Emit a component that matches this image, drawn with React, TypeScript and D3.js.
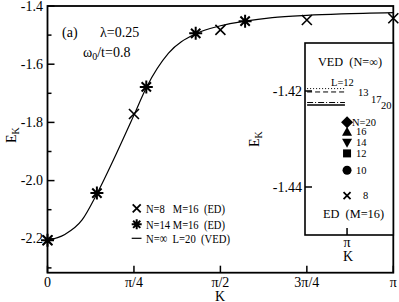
import { useMemo } from 'react';
import * as d3 from 'd3';

// K in units of pi
const vedK = [0, 0.05, 0.1, 0.143, 0.2, 0.25, 0.286, 0.35, 0.429, 0.5, 0.571, 0.65, 0.75, 0.85, 1.0];
const vedE = [-2.205, -2.185, -2.135, -2.045, -1.905, -1.775, -1.68, -1.562, -1.495, -1.468, -1.452, -1.44, -1.432, -1.427, -1.4227];

const ed8K = [0, 0.25, 0.5, 0.75, 1];
const ed8E = [-2.205, -1.771, -1.482, -1.448, -1.442];

const ed14K = [0, 1 / 7, 2 / 7, 3 / 7, 4 / 7];
const ed14E = [-2.205, -2.043, -1.678, -1.494, -1.452];

const kTicks = [0, 0.25, 0.5, 0.75, 1];
const kTickLabels = ['0', 'π/4', 'π/2', '3π/4', 'π'];
const eTicks = [-1.4, -1.6, -1.8, -2.0, -2.2];
const eTickLabels = ['-1.4', '-1.6', '-1.8', '-2.0', '-2.2'];
const eMinor = [-1.5, -1.7, -1.9, -2.1, -2.3];

const legendLabels = ['N=8   M=16  (ED)', 'N=14 M=16  (ED)', 'N=∞  L=20  (VED)'];

// inset
const insetL = ['L=12', '13', '17', '20'];
const insetLE = [-1.4195, -1.4202, -1.4224, -1.4229];
const insetN = ['N=20', '16', '14', '12', '10', '8'];
const insetNE = [-1.4265, -1.4285, -1.4308, -1.433, -1.4365, -1.4418];
const insetTicks = [-1.42, -1.44];

const W = 399, H = 302;
const FONT = '"Liberation Serif", "DejaVu Serif", serif';

function Cross({ x, y, s = 5, w = 1.6 }: any) {
  return (
    <path d={`M${x - s},${y - s}L${x + s},${y + s}M${x - s},${y + s}L${x + s},${y - s}`} stroke="#000" strokeWidth={w} />
  );
}

function Star({ x, y, s = 6 }: any) {
  const d = s * 0.72;
  return (
    <path
      d={`M${x - s},${y}L${x + s},${y}M${x},${y - s}L${x},${y + s}M${x - d},${y - d}L${x + d},${y + d}M${x - d},${y + d}L${x + d},${y - d}`}
      stroke="#000"
      strokeWidth={2}
    />
  );
}

function Sym({ i, x, y }: any) {
  const s = 5;
  if (i === 0) return <path d={`M${x},${y - s - 1}L${x + s + 1},${y}L${x},${y + s + 1}L${x - s - 1},${y}Z`} fill="#000" />;
  if (i === 1) return <path d={`M${x},${y - s}L${x + s},${y + s - 1}L${x - s},${y + s - 1}Z`} fill="#000" />;
  if (i === 2) return <path d={`M${x},${y + s}L${x + s},${y - s + 1}L${x - s},${y - s + 1}Z`} fill="#000" />;
  if (i === 3) return <rect x={x - 4} y={y - 4} width={8} height={8} fill="#000" />;
  if (i === 4) return <circle cx={x} cy={y} r={4.5} fill="#000" />;
  return <Cross x={x} y={y} s={3.5} w={1.8} />;
}

export default function App() {
  const x = d3.scaleLinear().domain([0, 1]).range([47.5, 393.3]);
  const y = d3.scaleLinear().domain([-2.3165, -1.4]).range([272.7, 6]);

  const ix = d3.scaleLinear().domain([0.9, 1.11]).range([305, 393.3]);
  const iy = d3.scaleLinear().domain([-1.45, -1.41]).range([235, 43]);

  const curve = useMemo(
    () =>
      d3
        .line<number>()
        .x((_, i) => x(vedK[i]))
        .y((d) => y(d))
        .curve(d3.curveMonotoneX)(vedE),
    []
  );

  const dashes = ['1,2', '5,3', '6,2,1,2', null];
  const lblPos = [
    [331, -1.4183],
    [358, -1.4203],
    [371, -1.4218],
    [381, -1.423],
  ];
  const legendY = [212.5, 228.5, 242.5];
  const legendW = [79, 79, 84];

  return (
    <div style={{ position: 'fixed', left: 0, top: 0 }}>
      <style>{`svg text { font-family: ${FONT}; }`}</style>
      <svg width={W} height={H} style={{ display: 'block', background: '#fff' }}>
        {/* curve */}
        <path d={curve || ''} fill="none" stroke="#000" strokeWidth={1.2} />

        {/* ED points */}
        {ed8K.map((k, i) => (
          <Cross key={'c' + i} x={x(k)} y={y(ed8E[i])} s={5} />
        ))}
        {ed14K.map((k, i) => (
          <Star key={'s' + i} x={x(k)} y={y(ed14E[i])} s={6.5} />
        ))}

        {/* frame */}
        <rect x={47.5} y={6} width={393.3 - 47.5} height={272.7 - 6} fill="none" stroke="#000" strokeWidth={1.8} />

        {/* y ticks */}
        {eTicks.map((t, i) => (
          <g key={'yt' + i}>
            <line x1={47.5} x2={54.5} y1={y(t)} y2={y(t)} stroke="#000" strokeWidth={1.5} />
            <text x={43} y={y(t) + 4.5} fontSize={14} textAnchor="end">
              {eTickLabels[i]}
            </text>
          </g>
        ))}
        {eMinor.map((t, i) => (
          <line key={'ym' + i} x1={47.5} x2={51.5} y1={y(t)} y2={y(t)} stroke="#000" strokeWidth={1.5} />
        ))}

        {/* x ticks */}
        {kTicks.map((t, i) => (
          <g key={'xt' + i}>
            <line x1={x(t)} x2={x(t)} y1={272.7} y2={265.7} stroke="#000" strokeWidth={1.5} />
            <text x={x(t)} y={287} fontSize={14} textAnchor="middle">
              {kTickLabels[i]}
            </text>
          </g>
        ))}

        {/* axis labels */}
        <text x={220} y={300.5} fontSize={14} textAnchor="middle">K</text>
        <text transform="translate(16,143) rotate(-90)" fontSize={14}>
          E<tspan dy={3} fontSize={10}>K</tspan>
        </text>

        {/* annotations */}
        <text x={62} y={37} fontSize={14}>(a)</text>
        <text x={100} y={37} fontSize={14}>λ=0.25</text>
        <text x={83} y={57} fontSize={14}>
          ω<tspan dy={3} fontSize={10}>0</tspan>
          <tspan dy={-3}>/t=0.8</tspan>
        </text>

        {/* legend */}
        <Cross x={136.7} y={208.3} s={4} w={1.8} />
        <Star x={136.7} y={224.3} s={5} />
        <line x1={131.7} x2={141.5} y1={238.3} y2={238.3} stroke="#000" strokeWidth={1.2} />
        {legendLabels.map((l, i) => (
          <text
            key={'lg' + i}
            x={146}
            y={legendY[i]}
            fontSize={13.5}
            textLength={legendW[i]}
            lengthAdjust="spacingAndGlyphs"
            style={{ whiteSpace: 'pre' }}
          >
            {l}
          </text>
        ))}

        {/* inset */}
        <rect x={305} y={43} width={393.3 - 305} height={235 - 43} fill="#fff" stroke="#000" strokeWidth={1.6} />
        {insetTicks.map((t, i) => (
          <g key={'it' + i}>
            <line x1={305} x2={312} y1={iy(t)} y2={iy(t)} stroke="#000" strokeWidth={1.5} />
            <text x={302} y={iy(t) + 4.5} fontSize={14} textAnchor="end">
              {t.toFixed(2)}
            </text>
          </g>
        ))}
        <line x1={ix(1)} x2={ix(1)} y1={235} y2={228} stroke="#000" strokeWidth={1.5} />
        <text x={ix(1)} y={247} fontSize={14} textAnchor="middle">π</text>
        <text x={ix(1) + 1} y={261} fontSize={14} textAnchor="middle">K</text>
        <text transform="translate(259,147) rotate(-90)" fontSize={14}>
          E<tspan dy={3} fontSize={10}>K</tspan>
        </text>

        <text x={318} y={66} fontSize={12} textLength={64} lengthAdjust="spacingAndGlyphs" style={{ whiteSpace: 'pre' }}>
          VED  (N=∞)
        </text>
        {insetLE.map((e, i) => (
          <line
            key={'il' + i}
            x1={ix(0.905)}
            x2={ix(0.995)}
            y1={iy(e)}
            y2={iy(e)}
            stroke="#000"
            strokeWidth={i === 3 ? 1.5 : 1}
            strokeDasharray={dashes[i] || undefined}
          />
        ))}
        {insetL.map((l, i) => (
          <text key={'ill' + i} x={lblPos[i][0]} y={iy(lblPos[i][1]) + 3.5} fontSize={10.5}>
            {l}
          </text>
        ))}
        {insetNE.map((e, i) => (
          <g key={'in' + i}>
            <Sym i={i} x={ix(1)} y={iy(e)} />
            <text x={i === 0 ? 352 : i === 5 ? 363 : 356} y={iy(e) + 3.5} fontSize={10.5}>
              {insetN[i]}
            </text>
          </g>
        ))}
        <text x={323} y={218} fontSize={12} textLength={61} lengthAdjust="spacingAndGlyphs" style={{ whiteSpace: 'pre' }}>
          ED  (M=16)
        </text>
      </svg>
    </div>
  );
}
